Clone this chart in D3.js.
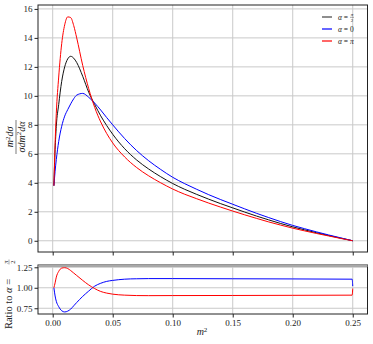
<!DOCTYPE html>
<html><head><meta charset="utf-8">
<script src="https://cdn.jsdelivr.net/npm/d3@7/dist/d3.min.js"></script>
<style>body{margin:0;background:#fff}svg{display:block}svg text{font-family:"Liberation Serif",serif !important;fill:#222}</style>
</head><body><svg id="c" width="373" height="344"></svg>
<script>
// ---- data ----
const m2 = [0.001,0.002,0.003,0.005,0.0075,0.01,0.0125,0.015,0.0175,0.02,0.025,0.03,0.035,0.04,0.045,0.05,0.06,0.07,0.08,0.09,0.10,0.11,0.12,0.13,0.14,0.15,0.16,0.17,0.18,0.19,0.20,0.21,0.22,0.23,0.24,0.25];
const alphaHalfPi = [3.8,6.3,7.9,9.4,11.0,12.0,12.55,12.73,12.6,12.3,11.35,10.25,9.4,8.62,7.95,7.35,6.35,5.57,4.95,4.42,3.95,3.55,3.2,2.87,2.56,2.27,1.98,1.70,1.44,1.19,0.96,0.75,0.55,0.36,0.18,0];
const alphaZero   = [3.8,4.8,5.6,6.85,7.9,8.6,9.05,9.45,9.8,10.05,10.17,9.9,9.5,9.02,8.5,8.0,7.05,6.22,5.52,4.92,4.38,3.94,3.55,3.18,2.84,2.52,2.2,1.89,1.6,1.32,1.06,0.83,0.61,0.4,0.2,0];
const alphaPi     = [3.8,6.7,8.8,11.3,13.6,14.9,15.45,15.4,14.85,14.0,12.1,10.5,9.2,8.2,7.4,6.75,5.78,5.05,4.48,4.0,3.57,3.21,2.9,2.6,2.32,2.05,1.79,1.54,1.3,1.08,0.87,0.68,0.5,0.33,0.16,0];

const ratioM    = [0.001,0.002,0.003,0.005,0.0075,0.01,0.0125,0.015,0.0175,0.02,0.025,0.03,0.035,0.04,0.045,0.05,0.06,0.07,0.08,0.10,0.15,0.20,0.2495,0.25];
const ratioZero = [1.0,0.9,0.835,0.77,0.72,0.705,0.715,0.74,0.78,0.82,0.895,0.96,1.02,1.055,1.078,1.09,1.105,1.11,1.112,1.112,1.11,1.108,1.105,1.02];
const ratioPi   = [1.0,1.06,1.13,1.2,1.24,1.245,1.235,1.21,1.18,1.15,1.09,1.035,0.99,0.955,0.935,0.922,0.91,0.905,0.904,0.905,0.906,0.908,0.91,0.99];

const xTicks = [0.00,0.05,0.10,0.15,0.20,0.25];
const yTicksMain = [0,2,4,6,8,10,12,14,16];
const yTicksRatio = [0.75,1.00,1.25];

// ---- layout ----
const svg = d3.select("#c");
const L = 38, R = 367.5, T1 = 5, B1 = 252, T2 = 265, B2 = 314;
const x = d3.scaleLinear().domain([-0.01225, 0.2623]).range([L, R]);
const y1 = d3.scaleLinear().domain([-0.775, 16.27]).range([B1, T1]);
const y2 = d3.scaleLinear().domain([0.680, 1.278]).range([B2, T2]);
const gridC = "#c9c9c9";
const FONT = "Liberation Serif";

function panel(y, top, bottom, yTicks, fmt, showX){
  const g = svg.append("g");
  g.selectAll(".vg").data(xTicks).enter().append("line")
    .attr("x1", d=>x(d)).attr("x2", d=>x(d)).attr("y1", top).attr("y2", bottom)
    .attr("stroke", gridC).attr("stroke-width", 1);
  g.selectAll(".hg").data(yTicks).enter().append("line")
    .attr("x1", L).attr("x2", R).attr("y1", d=>y(d)).attr("y2", d=>y(d))
    .attr("stroke", gridC).attr("stroke-width", 1);
  const ax = d3.axisLeft(y).tickValues(yTicks).tickFormat(fmt).tickSize(3.5).tickPadding(2);
  const ga = svg.append("g").attr("transform", `translate(${L},0)`).call(ax)
    .attr("font-family", FONT).attr("font-size", 9);
  ga.select(".domain").remove();
  ga.selectAll("line").attr("stroke", "#222");
  ga.selectAll("text").style("font-family", FONT).attr("fill","#222");
  const bx = d3.axisBottom(x).tickValues(xTicks).tickFormat(showX ? d3.format(".2f") : "").tickSize(3.5).tickPadding(2.5);
  const gb = svg.append("g").attr("transform", `translate(0,${bottom})`).call(bx)
    .attr("font-family", FONT).attr("font-size", 9);
  gb.select(".domain").remove();
  gb.selectAll("line").attr("stroke", "#222");
  gb.selectAll("text").style("font-family", FONT).attr("fill","#222");
  return g;
}
panel(y1, T1, B1, yTicksMain, d3.format("d"), false);
panel(y2, T2, B2, yTicksRatio, d3.format(".2f"), true);

// curves
const line1 = d3.line().x((d,i)=>x(m2[i])).y(d=>y1(d)).curve(d3.curveMonotoneX);
const series = [[alphaHalfPi,"#111"],[alphaZero,"#0000ff"],[alphaPi,"#ff0000"]];
series.forEach(([vals,c])=>{
  svg.append("path").datum(vals).attr("d", line1).attr("fill","none").attr("stroke",c).attr("stroke-width",1);
});
const line2 = d3.line().x((d,i)=>x(ratioM[i])).y(d=>y2(d)).curve(d3.curveMonotoneX);
[[ratioZero,"#0000ff"],[ratioPi,"#ff0000"]].forEach(([vals,c])=>{
  svg.append("path").datum(vals).attr("d", line2).attr("fill","none").attr("stroke",c).attr("stroke-width",1);
});

// spines
svg.append("rect").attr("x",L).attr("y",T1).attr("width",R-L).attr("height",B1-T1)
  .attr("fill","none").attr("stroke","#222").attr("stroke-width",1);
svg.append("rect").attr("x",L).attr("y",T2).attr("width",R-L).attr("height",B2-T2)
  .attr("fill","none").attr("stroke","#222").attr("stroke-width",1);
svg.append("line").attr("x1",L+0.5).attr("x2",R).attr("y1",T2+0.8).attr("y2",T2+0.8)
  .attr("stroke","#a8a8a8").attr("stroke-width",2.2);

// legend
const leg = [["#444", "0", "half"],["#0000ff","0","zero"],["#ff0000","π","pi"]];
const legY = [17, 29, 41];
leg.forEach((d,i)=>{
  const yy = legY[i];
  svg.append("line").attr("x1",322).attr("x2",332).attr("y1",yy).attr("y2",yy).attr("stroke",d[0]).attr("stroke-width",1.2);
  const t = svg.append("text").attr("x",338).attr("y",yy+2.5).attr("font-size",7.5);
  t.append("tspan").attr("font-style","italic").text("α");
  t.append("tspan").text(" = ");
  if(d[2]==="half"){
    const fx = 352;
    svg.append("text").attr("x",fx).attr("y",yy-0.6).attr("font-size",5).attr("text-anchor","middle").attr("font-style","italic").text("π");
    svg.append("line").attr("x1",fx-2).attr("x2",fx+2).attr("y1",yy+0.3).attr("y2",yy+0.3).attr("stroke","#222").attr("stroke-width",0.4);
    svg.append("text").attr("x",fx).attr("y",yy+4.6).attr("font-size",5).attr("text-anchor","middle").text("2");
  } else {
    t.append("tspan").attr("font-style", d[2]==="pi"?"italic":"normal").text(d[1]);
  }
});

// y label main (fraction)
const fl = svg.append("g").attr("transform","translate(16,137) rotate(-90)");
const num = fl.append("text").attr("x",0).attr("y",-3).attr("font-size",10).attr("text-anchor","middle").attr("font-style","italic");
num.append("tspan").text("m");
num.append("tspan").attr("font-size",7).attr("dy",-3.5).attr("font-style","normal").text("2");
num.append("tspan").attr("dy",3.5).text("dσ");
fl.append("line").attr("x1",-17).attr("x2",17).attr("y1",0).attr("y2",0).attr("stroke","#222").attr("stroke-width",0.6);
const den = fl.append("text").attr("x",0).attr("y",8.5).attr("font-size",10).attr("text-anchor","middle").attr("font-style","italic");
den.append("tspan").text("σdm");
den.append("tspan").attr("font-size",7).attr("dy",-3.5).attr("font-style","normal").text("2");
den.append("tspan").attr("dy",3.5).text("dα");

// y label ratio
const rl = svg.append("g").attr("transform","translate(12,298) rotate(-90)");
const rt = rl.append("text").attr("x",-6).attr("y",0).attr("font-size",10.5).attr("text-anchor","middle");
rt.append("tspan").text("Ratio to ");
rt.append("tspan").attr("font-style","italic").text("α");
rt.append("tspan").text(" = ");
rl.append("text").attr("x",36).attr("y",-4.5).attr("font-size",6.5).attr("text-anchor","middle").attr("font-style","italic").text("π");
rl.append("line").attr("x1",33.5).attr("x2",38.5).attr("y1",-3).attr("y2",-3).attr("stroke","#222").attr("stroke-width",0.4);
rl.append("text").attr("x",36).attr("y",2.5).attr("font-size",6.5).attr("text-anchor","middle").text("2");

// x label
const xl = svg.append("text").attr("x",202).attr("y",335).attr("font-size",10).attr("text-anchor","middle").attr("font-style","italic");
xl.append("tspan").text("m");
xl.append("tspan").attr("font-size",7).attr("dy",-3.5).attr("font-style","normal").text("2");
</script></body></html>
